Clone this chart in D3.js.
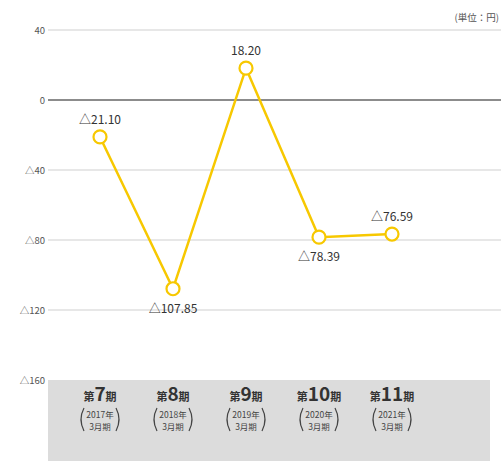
<!DOCTYPE html>
<html>
<head>
<meta charset="utf-8">
<script src="https://cdn.jsdelivr.net/npm/d3@7"></script>
<style>
  body { margin: 0; background: #fff; }
  text { font-family: "Noto Sans CJK JP", "Noto Sans", sans-serif; }
</style>
</head>
<body>
<svg id="chart" width="501" height="461"></svg>
<script>
// data
var periods = ['7', '8', '9', '10', '11'];
var years = ['2017年', '2018年', '2019年', '2020年', '2021年'];
var values = [-21.10, -107.85, 18.20, -78.39, -76.59];
var labelPos = ['above', 'below', 'above', 'below', 'above'];
var yTicks = [40, 0, -40, -80, -120, -160];

var svg = d3.select('#chart');

var x = d3.scalePoint().domain(periods).range([100, 392]);
var y = d3.scaleLinear().domain([-160, 40]).range([380, 30]);

function fmt(v) {
  // negative numbers are shown with a triangle
  return v < 0 ? '△' + d3.format('.2f')(-v) : d3.format('.2f')(v);
}
function tickFmt(v) {
  return v < 0 ? '△' + (-v) : '' + v;
}

// category band
svg.append('rect')
  .attr('x', 48).attr('y', y(-160))
  .attr('width', 442).attr('height', 461 - y(-160))
  .attr('fill', '#dcdcdc');

// grid
svg.selectAll('.grid')
  .data(yTicks.filter(function(d) { return d !== -160; }))
  .enter().append('line')
  .attr('x1', 48).attr('x2', 501)
  .attr('y1', function(d) { return y(d); })
  .attr('y2', function(d) { return y(d); })
  .attr('stroke', function(d) { return d === 0 ? '#666' : '#cfcfcf'; })
  .attr('stroke-width', function(d) { return d === 0 ? 1.6 : 1; });

// y axis labels
svg.selectAll('.tick')
  .data(yTicks)
  .enter().append('text')
  .attr('x', 45)
  .attr('y', function(d) { return y(d) + 3.5; })
  .attr('text-anchor', 'end')
  .attr('font-size', 9.5)
  .attr('fill', '#555')
  .text(tickFmt);

svg.append('text')
  .attr('x', 499).attr('y', 21)
  .attr('text-anchor', 'end')
  .attr('font-size', 9.5)
  .attr('fill', '#555')
  .text('(単位：円)');

// line
var line = d3.line()
  .x(function(d, i) { return x(periods[i]); })
  .y(function(d) { return y(d); });

svg.append('path')
  .datum(values)
  .attr('d', line)
  .attr('fill', 'none')
  .attr('stroke', '#f7c800')
  .attr('stroke-width', 2.5);

svg.selectAll('.pt')
  .data(values)
  .enter().append('circle')
  .attr('cx', function(d, i) { return x(periods[i]); })
  .attr('cy', function(d) { return y(d); })
  .attr('r', 6.5)
  .attr('fill', '#fff')
  .attr('stroke', '#f7c800')
  .attr('stroke-width', 2.2);

svg.selectAll('.val')
  .data(values)
  .enter().append('text')
  .attr('x', function(d, i) { return x(periods[i]); })
  .attr('y', function(d, i) { return labelPos[i] === 'above' ? y(d) - 13 : y(d) + 24; })
  .attr('text-anchor', 'middle')
  .attr('font-size', 12)
  .attr('fill', '#333')
  .text(fmt);

// category labels
var cat = svg.selectAll('.cat')
  .data(periods)
  .enter().append('g')
  .attr('transform', function(d) { return 'translate(' + x(d) + ',0)'; });

var head = cat.append('text')
  .attr('y', 401)
  .attr('text-anchor', 'middle')
  .attr('fill', '#333');
head.append('tspan').attr('font-size', 11).attr('font-weight', 'bold').text('第');
head.append('tspan').attr('font-size', 19).attr('font-weight', 'bold')
  .text(function(d) { return d; });
head.append('tspan').attr('font-size', 11).attr('font-weight', 'bold').text('期');

cat.append('text')
  .attr('y', 417.5)
  .attr('text-anchor', 'middle')
  .attr('font-size', 8.5)
  .attr('fill', '#444')
  .text(function(d, i) { return years[i]; });

cat.append('text')
  .attr('y', 430)
  .attr('text-anchor', 'middle')
  .attr('font-size', 8.5)
  .attr('fill', '#444')
  .text('3月期');

// brackets round the year
cat.append('path')
  .attr('d', 'M-16,408 Q-22,419.5 -16,431 M16,408 Q22,419.5 16,431')
  .attr('fill', 'none')
  .attr('stroke', '#444')
  .attr('stroke-width', 1.2);
</script>
</body>
</html>
